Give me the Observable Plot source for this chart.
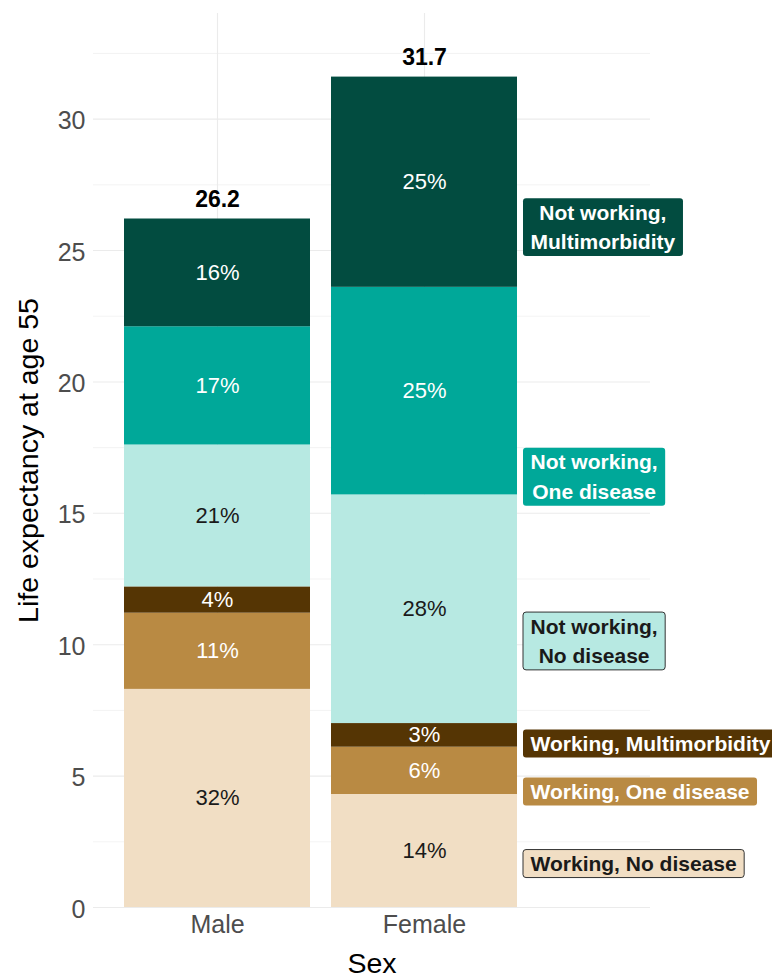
<!DOCTYPE html>
<html><head><meta charset="utf-8">
<script src="https://cdn.jsdelivr.net/npm/d3@7"></script>
<script src="https://cdn.jsdelivr.net/npm/@observablehq/plot@0.6"></script>
<style>body{margin:0;background:#fff}</style>
</head><body><div id="chart"></div>
<script>
const sexes = ["Male", "Female"];
const categories = ["Working, No disease", "Working, One disease", "Working, Multimorbidity",
  "Not working, No disease", "Not working, One disease", "Not working, Multimorbidity"];
const labelTexts = ["Working, No disease", "Working, One disease", "Working, Multimorbidity",
  "Not working,\nNo disease", "Not working,\nOne disease", "Not working,\nMultimorbidity"];
const colors = ["#f1dec4", "#b98a43", "#553504", "#b7e9e2", "#00a899", "#024c40"];
const textColors = ["#1a1a1a", "#ffffff", "#ffffff", "#1a1a1a", "#ffffff", "#ffffff"];
const maleYears = [8.3, 2.9, 1.0, 5.4, 4.5, 4.1];
const femaleYears = [4.3, 1.8, 0.9, 8.7, 7.9, 8.0];
const malePct = [32, 11, 4, 21, 17, 16];
const femalePct = [14, 6, 3, 28, 25, 25];
const totals = [26.2, 31.7];
const labelY = [1.75, 4.49, 6.32, 10.22, 16.47, 25.97];
const majorTicks = [0, 5, 10, 15, 20, 25, 30];
const minorTicks = [2.5, 7.5, 12.5, 17.5, 22.5, 27.5, 32.5];

const yearsBySex = [maleYears, femaleYears];
const pctBySex = [malePct, femalePct];
const rows = sexes.flatMap((s, si) => categories.map((c, ci) => ({
  sex: s, cat: c, ci, years: yearsBySex[si][ci], pct: pctBySex[si][ci]
})));
const totalData = sexes.map((s, si) => ({sex: s, top: d3.sum(yearsBySex[si]), label: totals[si].toFixed(1)}));
const labelData = categories.map((c, ci) => ({text: labelTexts[ci], y: labelY[ci], ci, fill: colors[ci], tc: textColors[ci]}));

const FONT = "'Liberation Sans', Arial, Helvetica, sans-serif";
const grid = "#ebebeb";

const plot = Plot.plot({
  width: 772,
  height: 980,
  marginLeft: 93,
  marginRight: 122,
  marginTop: 13,
  marginBottom: 73,
  style: {fontFamily: FONT, fontSize: "25px", color: "#000", background: "#fff"},
  x: {domain: sexes, paddingInner: 0.1, paddingOuter: 0.389, align: 0.189, label: null},
  y: {domain: [0, 34.02], label: null},
  color: {type: "identity"},
  marks: [
    Plot.ruleY(minorTicks, {y: d => d, stroke: grid, strokeWidth: 0.6}),
    Plot.ruleY(majorTicks, {y: d => d, stroke: grid, strokeWidth: 1.1}),
    Plot.ruleX(sexes, {x: d => d, stroke: grid, strokeWidth: 1.1}),
    Plot.barY(rows, {x: "sex", y: "years", fill: d => colors[d.ci]}),
    Plot.text(rows, Plot.stackY({x: "sex", y: "years", text: d => d.pct + "%", fill: d => textColors[d.ci], fontSize: 22})),
    Plot.text(totalData, {x: "sex", y: "top", text: "label", dy: -19, fontWeight: "bold", fontSize: 23, fill: "#000"}),
    Plot.text(labelData, {x: () => "Female", y: "y", text: "text", fill: "tc", fontSize: 21, fontWeight: "bold",
      lineHeight: 1.42, textAnchor: "middle", ariaDescription: "series-label"}),
    Plot.axisY(majorTicks, {tickSize: 0, tickPadding: 8, fontSize: 25, color: "#4d4d4d", label: null, dy: 2}),
    Plot.axisX({tickSize: 0, tickPadding: 8, fontSize: 25, color: "#4d4d4d", label: null}),
    Plot.text(["Life expectancy at age 55"], {text: d => d, frameAnchor: "left", textAnchor: "middle", lineAnchor: "middle",
      dx: -65, rotate: -90, fontSize: 28.5, fill: "#000"}),
    Plot.text(["Sex"], {text: d => d, frameAnchor: "bottom", textAnchor: "middle", lineAnchor: "middle",
      dy: 56, fontSize: 28.5, fill: "#000"})
  ]
});
document.getElementById("chart").append(plot);

// Label boxes behind the category labels (sized from measured text)
const xs = plot.scale("x");
const boxLeft = xs.apply("Female") + xs.bandwidth + 6;
const padX = 7.5, padY = 2.5;
const svgRect = plot.getBoundingClientRect();
const ns = "http://www.w3.org/2000/svg";
let labelGroup = plot.querySelector('g[aria-description="series-label"]');
if (!labelGroup) {
  labelGroup = Array.from(plot.querySelectorAll('g[aria-label="text"]'))
    .find(g => Array.from(g.querySelectorAll("text")).some(t => t.textContent.includes("Working, No disease")));
}
Array.from(labelGroup.querySelectorAll("text")).forEach((t, k) => {
  const i = typeof t.__data__ === "number" ? t.__data__ : k;
  const d = labelData[i];
  const cr = t.getBoundingClientRect();
  const shift = boxLeft + padX - (cr.left - svgRect.left);
  const old = t.getAttribute("transform");
  t.setAttribute("transform", `translate(${shift},0)` + (old ? " " + old : ""));
  const b = t.getBBox();
  const r = document.createElementNS(ns, "rect");
  r.setAttribute("x", b.x - padX);
  r.setAttribute("y", b.y - padY);
  r.setAttribute("width", b.width + 2 * padX);
  r.setAttribute("height", b.height + 2 * padY);
  r.setAttribute("rx", 3);
  r.setAttribute("fill", d.fill);
  if (d.tc !== "#ffffff") { r.setAttribute("stroke", "#333"); r.setAttribute("stroke-width", 1); }
  else r.setAttribute("stroke", "none");
  r.setAttribute("transform", t.getAttribute("transform"));
  t.parentNode.insertBefore(r, t);
});
</script>
</body></html>
